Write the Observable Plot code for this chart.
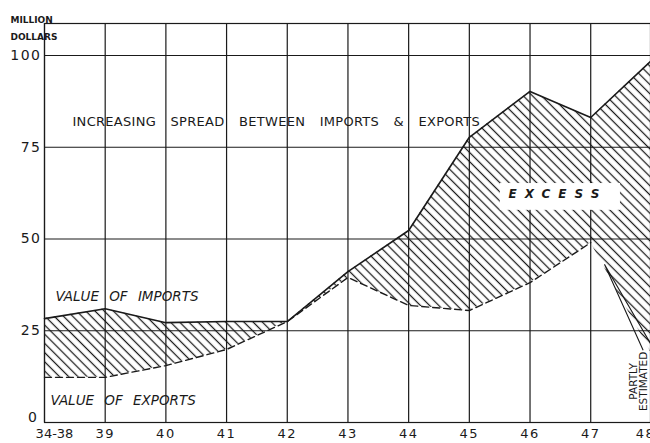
<!DOCTYPE html>
<html><head><meta charset="utf-8">
<script src="https://cdn.jsdelivr.net/npm/d3@7"></script>
<script src="https://cdn.jsdelivr.net/npm/@observablehq/plot@0.6"></script>
<style>html,body{margin:0;padding:0;background:#fff;overflow:hidden}svg{display:block}</style>
</head><body><div id="chart"></div>
<script>
// ---- data (million dollars) ----
const years = ["34-38","39","40","41","42","43","44","45","46","47","48"];
const imports = [28.3, 31.0, 27.2, 27.5, 27.5, 41.1, 52.3, 77.7, 90.2, 83.1, 98.6];
const exports = [12.3, 12.3, 15.5, 19.9, 27.5, 39.5, 31.9, 30.5, 38.1, 49.0, 18.8];
const yTicks = [0, 25, 50, 75, 100];

const rows = years.map((year, i) => ({i, year, imports: imports[i], exports: exports[i]}));
const exportRows = rows.filter(d => d.i <= 9);

// annotation anchors in data units
const arrow = [{x: 9.985, y: 21.5}, {x: 9.23, y: 43.0}, {x: 9.86, y: 19.8}];
const excessBox = [{x1: 7.51, x2: 9.49, y1: 57.8, y2: 65.1}];

const ink = "#1a1a1a";

const chart = Plot.plot({
  width: 650, height: 443,
  marginTop: 23, marginBottom: 21, marginLeft: 44, marginRight: 0,
  style: {fontFamily: "DejaVu Sans", background: "white", color: ink},
  x: {type: "linear", domain: [0, 9.985], axis: null},
  y: {domain: [0, 108.7], axis: null},
  marks: [
    Plot.areaY(rows, {x: "i", y1: "exports", y2: "imports", fill: "url(#hatch)"}),
    Plot.ruleX(rows, {x: "i", stroke: ink, strokeWidth: 1.2}),
    Plot.ruleY(yTicks, {stroke: ink, strokeWidth: 1.1}),
    Plot.frame({stroke: ink, strokeWidth: 1.2}),
    Plot.line(rows, {x: "i", y: "imports", stroke: ink, strokeWidth: 1.6}),
    Plot.line(exportRows, {x: "i", y: "exports", stroke: ink, strokeWidth: 1.4, strokeDasharray: "7,4"}),
    Plot.line(arrow, {x: "x", y: "y", stroke: ink, strokeWidth: 1.1}),
    Plot.rect(excessBox, {x1: "x1", x2: "x2", y1: "y1", y2: "y2", fill: "white"}),
    Plot.text(["EXCESS"], {x: 7.645, y: 62.1, textAnchor: "start", fontSize: 12, fontStyle: "italic", fontWeight: "bold", fill: ink}),
    Plot.text(["INCREASING SPREAD BETWEEN IMPORTS & EXPORTS"], {x: 0.461, y: 82.0, textAnchor: "start", fontSize: 13, fill: ink}),
    Plot.text(["VALUE OF IMPORTS"], {x: 0.18, y: 34.3, textAnchor: "start", fontSize: 13.5, fontStyle: "italic", fill: ink}),
    Plot.text(["VALUE OF EXPORTS"], {x: 0.10, y: 6.0, textAnchor: "start", fontSize: 13.5, fontStyle: "italic", fill: ink}),
    Plot.text(["PARTLY"], {x: 9.705, y: 11.2, rotate: -90, fontSize: 10.5, fill: ink}),
    Plot.text(["ESTIMATED"], {x: 9.87, y: 11.2, rotate: -90, fontSize: 10.5, fill: ink}),
    Plot.text(["MILLION"], {frameAnchor: "top-left", dx: -34, dy: -7, textAnchor: "start", fontSize: 9, fontWeight: "bold", fill: ink}),
    Plot.text(["DOLLARS"], {frameAnchor: "top-left", dx: -34, dy: 10, textAnchor: "start", fontSize: 9, fontWeight: "bold", fill: ink}),
    Plot.axisY({ticks: yTicks.filter(v => v > 0), tickSize: 0, tickPadding: 3, fontSize: 14, label: null, fill: ink}),
    Plot.axisY({ticks: [0], tickSize: 0, tickPadding: 6, fontSize: 14, label: null, dy: -5, fill: ink}),
    Plot.axisX({ticks: d3.range(1, 10), tickFormat: i => years[i], tickSize: 0, tickPadding: 6, fontSize: 13, label: null, fill: ink}),
    Plot.axisX({ticks: [0], tickFormat: i => years[i], tickSize: 0, tickPadding: 6, fontSize: 13, label: null, dx: 10, fill: ink}),
    Plot.axisX({ticks: [10], tickFormat: i => years[i], tickSize: 0, tickPadding: 6, fontSize: 13, label: null, dx: -6, fill: ink})
  ]
});

const defs = document.createElementNS("http://www.w3.org/2000/svg", "defs");
defs.innerHTML = '<pattern id="hatch" patternUnits="userSpaceOnUse" width="6.5" height="6.5" patternTransform="rotate(-45)"><line x1="3.25" y1="-1" x2="3.25" y2="8" stroke="#1a1a1a" stroke-width="1.25"/></pattern>';
chart.insertBefore(defs, chart.firstChild);

const sel = d3.select(chart).selectAll("text");
sel.filter(function(){ return this.textContent === "EXCESS"; }).attr("letter-spacing", 8);
sel.filter(function(){ return this.textContent.startsWith("INCREASING"); }).attr("letter-spacing", 0.3).attr("word-spacing", 10);
sel.filter(function(){ return this.textContent.startsWith("VALUE"); }).attr("word-spacing", 6);
sel.filter(function(){ return /^\d+$/.test(this.textContent); }).attr("letter-spacing", 1.5);

document.getElementById("chart").appendChild(chart);
</script>
</body></html>
